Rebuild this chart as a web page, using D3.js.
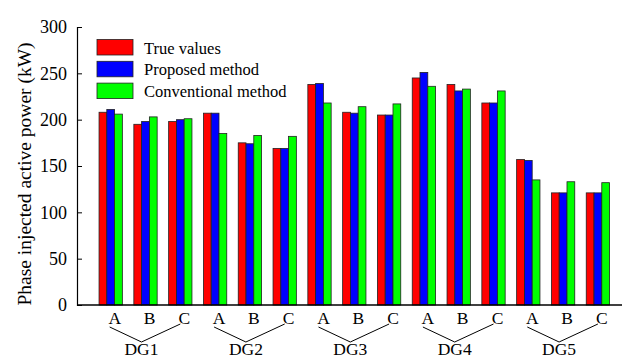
<!DOCTYPE html>
<html lang="en">
<head>
<meta charset="utf-8">
<title>Phase injected active power</title>
<style>
  body { margin: 0; background: #fff; }
  svg text { font-family: "Liberation Serif", "Times New Roman", serif; fill: #000; }
</style>
</head>
<body>
<div id="chart"></div>
<script src="https://cdn.jsdelivr.net/npm/d3@7/dist/d3.min.js"></script>
<script>
var dgs = ["DG1", "DG2", "DG3", "DG4", "DG5"];
var phases = ["A", "B", "C"];
var seriesNames = ["True values", "Proposed method", "Conventional method"];
var colors = ["#ff0000", "#0000ff", "#00ff00"];

// one value per DG phase, order DG1 A,B,C, DG2 A,B,C ...
var trueValues     = [208, 195, 198, 207, 175, 169, 238, 208, 205, 245, 238, 218, 157, 121, 121];
var proposedValues = [211, 198, 200, 207, 174, 169, 239, 207, 205, 251, 231, 218, 156, 121, 121];
var convValues     = [206, 203, 201, 185, 183, 182, 218, 214, 217, 236, 233, 231, 135, 133, 132];
var yTicks = [0, 50, 100, 150, 200, 250, 300];

var series = [trueValues, proposedValues, convValues];

var w = 622, h = 359;
var padL = 77, padR = 622, padT = 27, padB = 305;

var cats = [];
dgs.forEach(function(dg) {
  phases.forEach(function(p) { cats.push(dg + "-" + p); });
});

var svg = d3.select("#chart").append("svg")
  .attr("width", w).attr("height", h);

var x = d3.scaleBand()
  .domain(cats)
  .range([93.3, 615.3])
  .paddingInner(0.33)
  .paddingOuter(0.165);

var xs = d3.scaleBand()
  .domain(d3.range(series.length))
  .range([0, x.bandwidth()]);

var y = d3.scaleLinear().domain([0, 300]).range([padB, padT]);

// bars
var groups = svg.append("g").selectAll("g")
  .data(cats)
  .enter().append("g")
  .attr("transform", function(d) { return "translate(" + x(d) + ",0)"; });

groups.selectAll("rect")
  .data(function(d, i) { return series.map(function(s, k) { return {k: k, v: s[i]}; }); })
  .enter().append("rect")
  .attr("x", function(d) { return xs(d.k); })
  .attr("width", xs.bandwidth())
  .attr("y", function(d) { return y(d.v); })
  .attr("height", function(d) { return padB - y(d.v); })
  .attr("fill", function(d) { return colors[d.k]; })
  .attr("stroke", "#222")
  .attr("stroke-width", 0.8);

// y axis, ticks pointing in
var yAxis = d3.axisLeft(y).tickValues(yTicks).tickSize(-5).tickPadding(10);
var gy = svg.append("g")
  .attr("transform", "translate(" + padL + ",0)")
  .call(yAxis);
gy.select(".domain").attr("stroke", "#000").attr("stroke-width", 1.2);
gy.selectAll(".tick line").attr("stroke", "#000");
gy.selectAll("text").style("font-size", "18px").attr("fill", "#000");

// x baseline
svg.append("line")
  .attr("x1", padL).attr("x2", padR)
  .attr("y1", padB).attr("y2", padB)
  .attr("stroke", "#000").attr("stroke-width", 1.5);

// phase labels
svg.append("g").selectAll("text")
  .data(cats)
  .enter().append("text")
  .attr("x", function(d) { return x(d) + x.bandwidth() / 2 + 4; })
  .attr("y", 324)
  .attr("text-anchor", "middle")
  .style("font-size", "17.5px")
  .text(function(d) { return d.split("-")[1]; });

// brackets under each DG
dgs.forEach(function(dg) {
  var cA = x(dg + "-A") + x.bandwidth() / 2;
  var cB = x(dg + "-B") + x.bandwidth() / 2;
  var cC = x(dg + "-C") + x.bandwidth() / 2;
  svg.append("path")
    .attr("d", "M" + (cA - 1) + ",327 L" + (cB - 4) + ",342 L" + (cC) + ",324")
    .attr("fill", "none")
    .attr("stroke", "#000")
    .attr("stroke-width", 1);
  svg.append("text")
    .attr("x", cB - 4)
    .attr("y", 355)
    .attr("text-anchor", "middle")
    .style("font-size", "17.5px")
    .text(dg);
});

// y label
svg.append("text")
  .attr("transform", "translate(31," + ((padT + padB) / 2 + 8) + ") rotate(-90)")
  .attr("text-anchor", "middle")
  .style("font-size", "19.5px")
  .text("Phase injected active power (kW)");

// legend
var legend = svg.append("g").selectAll("g")
  .data(seriesNames)
  .enter().append("g")
  .attr("transform", function(d, i) { return "translate(97," + (39.5 + i * 21.8) + ")"; });

legend.append("rect")
  .attr("width", 36).attr("height", 15.5)
  .attr("fill", function(d, i) { return colors[i]; })
  .attr("stroke", "#222").attr("stroke-width", 0.8);

legend.append("text")
  .attr("x", 47).attr("y", 14)
  .style("font-size", "16.5px")
  .text(function(d) { return d; });
</script>
</body>
</html>
